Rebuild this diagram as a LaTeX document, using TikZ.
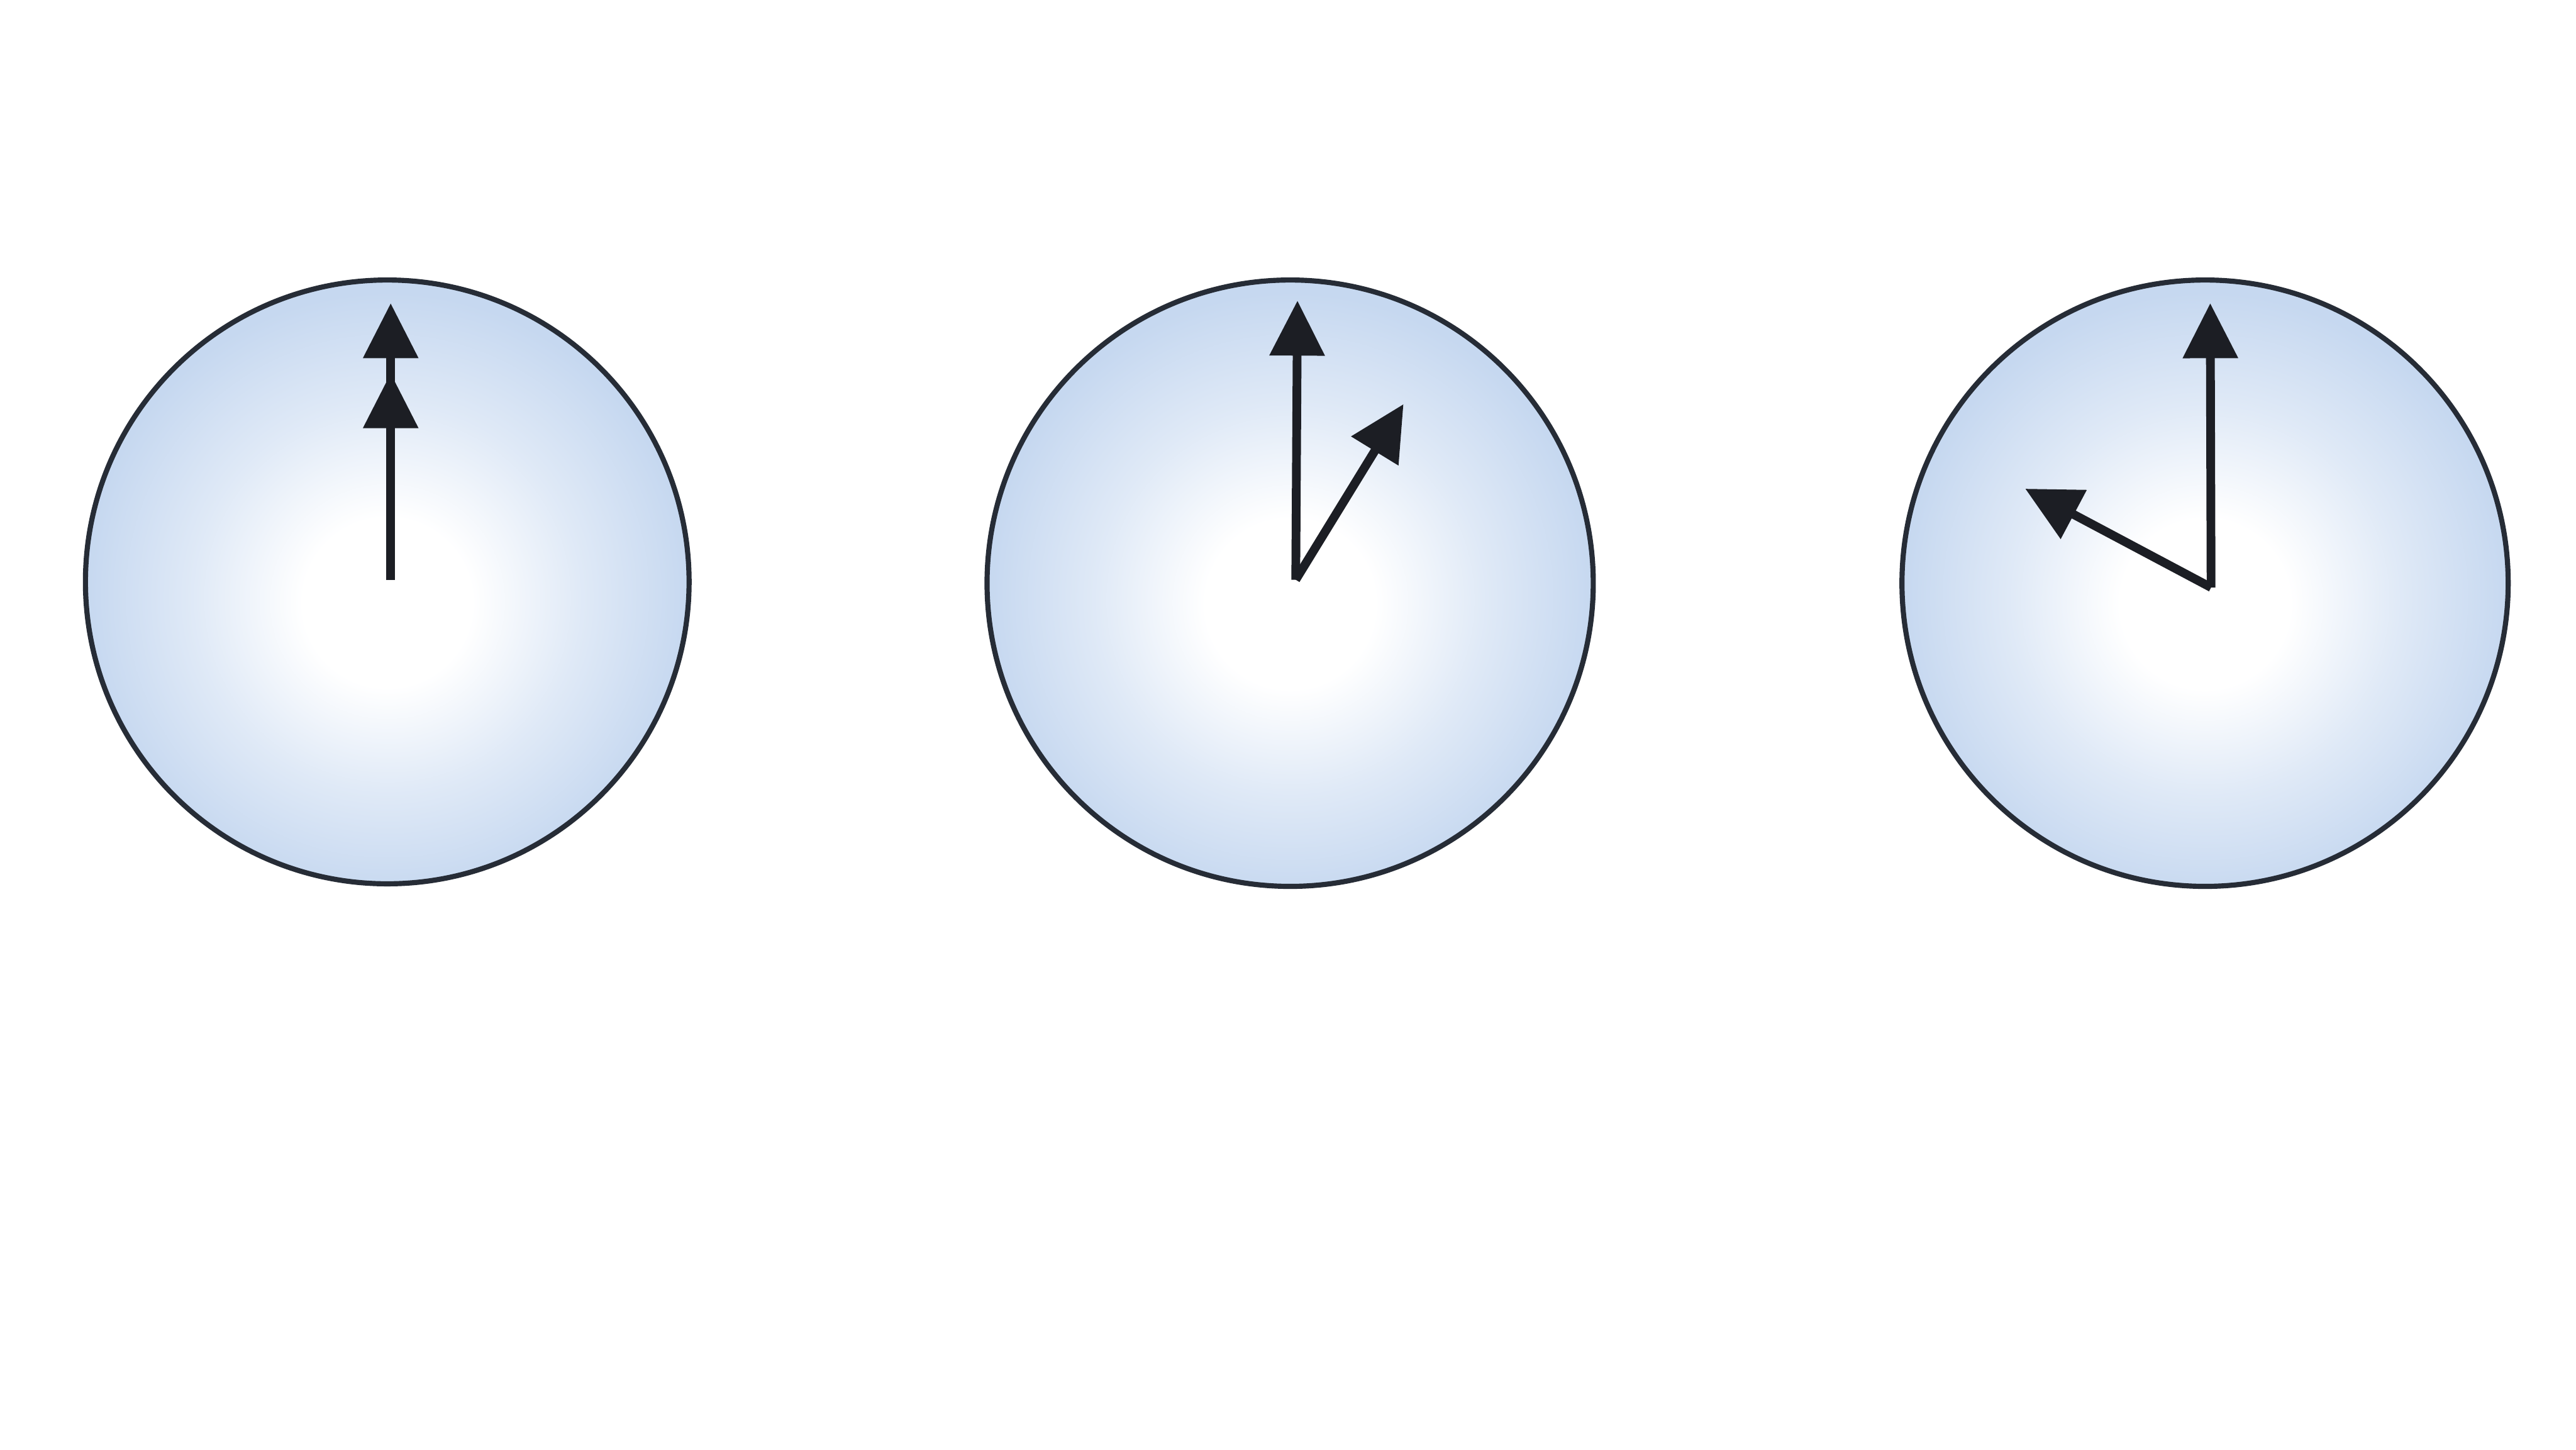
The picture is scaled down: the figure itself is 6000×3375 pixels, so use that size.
\documentclass[tikz,border=0pt]{standalone}
\usetikzlibrary{arrows.meta}
\definecolor{faceedge}{RGB}{198,216,240}
\definecolor{rimcol}{RGB}{38,44,54}
\definecolor{handcol}{RGB}{28,30,36}
\pgfdeclareradialshading{clockface}{\pgfpoint{0bp}{-2bp}}{%
  color(0bp)=(white); color(7bp)=(white); color(16bp)=(faceedge!55!white);
  color(25bp)=(faceedge); color(50bp)=(faceedge)}
\tikzset{
  face/.style={draw=rimcol, line width=3.4pt, shading=clockface},
  hand/.style={draw=handcol, line width=5.8pt, -{Triangle[length=1.28cm,width=1.24cm]}}
}
\begin{document}
\begin{tikzpicture}[x=0.01cm,y=-0.01cm]
\useasboundingbox[fill=white] (0,0) rectangle (6000,3375);
% clock 1
\coordinate (c1) at (902,1355);
\coordinate (o1) at (910,1350);
\coordinate (m1) at (910,706);
\coordinate (h1) at (910,869);
\path[face] (c1) circle[radius=703];
\draw[hand] (o1) -- (m1);
\draw[hand] (o1) -- (h1);
% clock 2
\coordinate (c2) at (3005,1358);
\coordinate (o2) at (3018,1350);
\coordinate (m2) at (3022,700);
\coordinate (h2) at (3269,941);
\path[face] (c2) circle[radius=706];
\draw[hand] (o2) -- (m2);
\draw[hand] (o2) -- (h2);
% clock 3
\coordinate (c3) at (5136,1358);
\coordinate (o3) at (5150,1368);
\coordinate (m3) at (5148,706);
\coordinate (h3) at (4717,1138);
\path[face] (c3) circle[radius=706];
\draw[hand] (o3) -- (m3);
\draw[hand] (o3) -- (h3);
\end{tikzpicture}
\end{document}
